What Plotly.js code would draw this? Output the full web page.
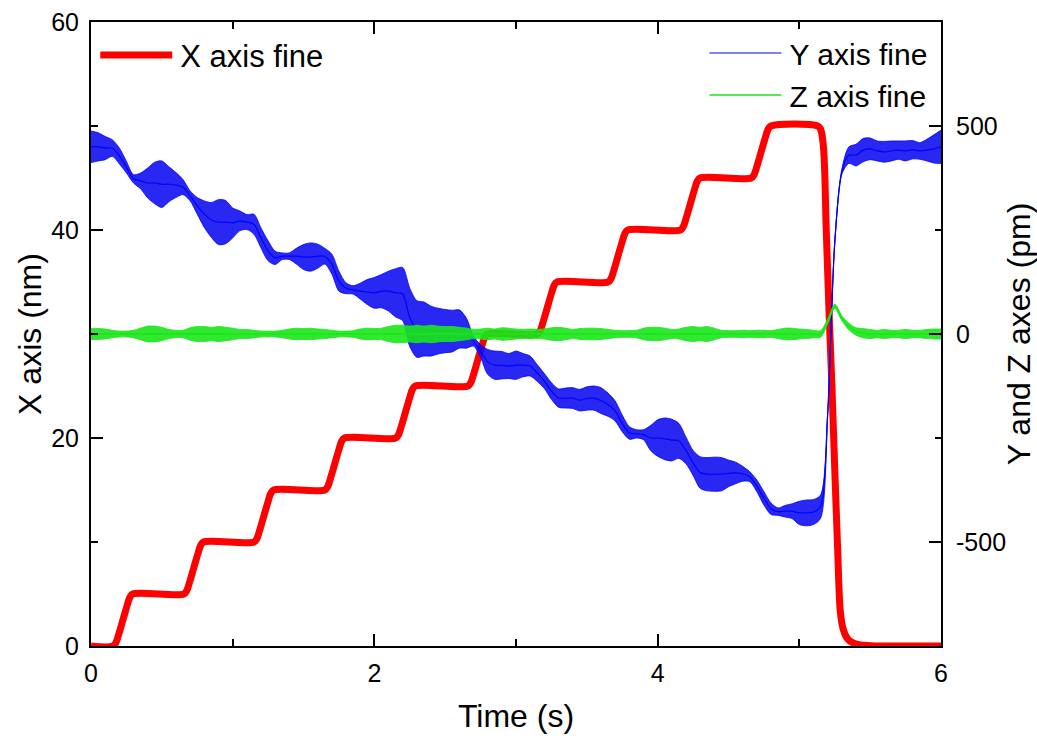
<!DOCTYPE html>
<html>
<head>
<meta charset="utf-8">
<script src="https://cdn.plot.ly/plotly-3.0.1.min.js"></script>
<style>html,body{margin:0;padding:0;background:#fff;}#chart{width:1037px;height:738px;}</style>
</head>
<body>
<div id="chart"></div>
<script>
// ---- X axis fine (nm): time (s) and position ----
const tX = [0, 0.155, 0.175, 0.195, 0.225, 0.255, 0.275, 0.295,
  0.655, 0.675, 0.695, 0.725, 0.755, 0.775, 0.795,
  1.15, 1.17, 1.19, 1.22, 1.25, 1.27, 1.29,
  1.65, 1.67, 1.69, 1.72, 1.75, 1.77, 1.79,
  2.15, 2.17, 2.19, 2.22, 2.25, 2.27, 2.29,
  2.66, 2.68, 2.70, 2.73, 2.76, 2.78, 2.80,
  3.15, 3.17, 3.19, 3.22, 3.25, 3.27, 3.29,
  3.65, 3.67, 3.69, 3.72, 3.75, 3.77, 3.79,
  4.16, 4.18, 4.20, 4.23, 4.26, 4.28, 4.30,
  4.66, 4.68, 4.70, 4.73, 4.76, 4.78, 4.80,
  5.13, 5.15, 5.17, 5.19, 5.21, 5.23, 5.25, 5.27, 5.29, 5.31, 5.34, 5.38, 5.43, 5.50, 5.60, 6.00];
const xFine = [0, 0, 0.3, 1.1, 2.5, 3.9, 4.7, 5,
  5, 5.3, 6.1, 7.5, 8.9, 9.7, 10,
  10, 10.3, 11.1, 12.5, 13.9, 14.7, 15,
  15, 15.3, 16.1, 17.5, 18.9, 19.7, 20,
  20, 20.3, 21.1, 22.5, 23.9, 24.7, 25,
  25, 25.3, 26.1, 27.5, 28.9, 29.7, 30,
  30, 30.3, 31.1, 32.5, 33.9, 34.7, 35,
  35, 35.3, 36.1, 37.5, 38.9, 39.7, 40,
  40, 40.3, 41.1, 42.5, 43.9, 44.7, 45,
  45, 45.3, 46.1, 47.5, 48.9, 49.7, 50,
  50, 49.7, 48, 40, 32, 25, 17, 9.5, 3.2, 1.6, 0.7, 0.3, 0.1, 0.03, 0, 0];

// ---- Y and Z fine (pm): sample times (s), band centre and half-width ----
const tB = [0,0.05,0.1,0.15,0.2,0.25,0.3,0.35,0.4,0.45,0.5,0.55,0.6,0.65,0.7,0.75,0.8,0.85,0.9,0.95,
  1,1.05,1.1,1.15,1.2,1.25,1.3,1.35,1.4,1.45,1.5,1.55,1.6,1.65,1.7,1.75,1.8,1.85,1.9,1.95,
  2,2.05,2.1,2.15,2.2,2.25,2.3,2.35,2.4,2.45,2.5,2.55,2.6,2.65,2.7,2.75,2.8,2.85,2.9,2.95,
  3,3.05,3.1,3.15,3.2,3.25,3.3,3.35,3.4,3.45,3.5,3.55,3.6,3.65,3.7,3.75,3.8,3.85,3.9,3.95,
  4,4.05,4.1,4.15,4.2,4.25,4.3,4.35,4.4,4.45,4.5,4.55,4.6,4.65,4.7,4.75,4.8,4.85,4.9,4.95,
  5,5.05,5.1,5.15,5.2,5.25,5.3,5.35,5.4,5.45,5.5,5.55,5.6,5.65,5.7,5.75,5.8,5.85,5.9,5.95,6];
const yMid = [450,450,447,447,428,401,373,368,363,363,360,360,358,353,332,308,288,274,269,269,
  267,272,269,264,231,200,183,187,187,187,185,185,187,187,168,127,110,106,103,101,
  99,103,103,99,96,40,12,12,7,7,7,7,12,2,-17,-41,-67,-75,-75,-77,
  -75,-75,-77,-94,-113,-137,-154,-154,-154,-159,-155,-154,-160,-170,-185,-215,-238,-240,-242,-250,
  -250,-252,-255,-257,-280,-310,-333,-337,-337,-337,-335,-334,-336,-343,-365,-395,-420,-427,-426,-426,
  -430,-430,-428,-415,-193,220,390,430,430,442,445,440,438,440,442,440,443,440,442,445,450];
const yAmp = [38,34,28,20,19,14,10,19,36,50,56,42,30,18,12,20,32,42,54,52,
  36,24,18,24,24,24,16,8,8,19,30,34,29,19,24,24,13,10,19,30,
  37,40,48,58,64,70,68,65,60,55,52,50,46,36,12,15,30,34,33,30,
  34,28,24,20,18,20,22,24,25,26,28,29,31,28,24,20,15,10,12,30,
  44,50,50,42,32,30,38,40,41,40,32,26,18,12,14,16,14,9,14,18,
  28,31,30,28,3,3,6,20,26,28,26,24,25,24,22,24,22,20,26,34,40];
const zMid = [0,0,0,0,0,0,0,0,0,0,0,0,0,0,0,0,0,0,0,0,
  0,0,0,0,0,0,0,0,0,0,0,0,0,0,0,0,0,0,0,0,
  0,0,0,0,0,0,0,0,0,0,0,0,0,0,0,0,0,0,0,0,
  0,0,0,0,0,0,0,0,0,0,0,0,0,0,0,0,0,0,0,0,
  0,0,0,0,0,0,0,0,0,0,0,0,0,0,0,0,0,0,0,0,
  0,0,0,0,30,67,38,18,6,2,0,0,0,0,0,0,0,0,0,0,0];
const zAmp = [13,13,12,9,7,7,9,14,19,19,16,11,9,9,15,18,18,16,18,16,
  14,11,11,9,7,7,7,9,12,14,13,14,12,11,9,7,7,8,12,14,
  13,14,18,21,21,19,21,19,21,19,18,18,16,14,11,12,14,12,15,14,
  12,11,12,11,12,15,16,14,11,13,14,14,13,11,9,8,8,9,14,16,
  16,14,11,12,16,18,16,18,14,9,8,8,9,8,9,9,8,11,14,14,
  12,11,9,8,6,5,6,8,9,11,11,9,11,9,9,11,9,9,11,12,12];

// ---- labels ----
const seriesNames = ['X axis fine', 'Y axis fine', 'Z axis fine'];
const rightTickVals = [-500, 0, 500];
const rightTickText = ['-500', '0', '500'];
const colors = {x: '#ff0000', y: '#0000ff', z: '#19e619'};

const yLo = yMid.map((m, i) => m - yAmp[i]);
const yHi = yMid.map((m, i) => m + yAmp[i]);
const zLo = zMid.map((m, i) => m - zAmp[i]);
const zHi = zMid.map((m, i) => m + zAmp[i]);

const band = {shape: 'spline', smoothing: 0.8};
const traces = [
  {x: tX, y: xFine, type: 'scatter', mode: 'lines', name: seriesNames[0], legend: 'legend',
   line: {color: colors.x, width: 7, shape: 'spline', smoothing: 1}, yaxis: 'y'},
  {x: tB, y: yLo, type: 'scatter', mode: 'lines', showlegend: false, hoverinfo: 'skip',
   line: Object.assign({color: colors.y, width: 0.8}, band), yaxis: 'y2'},
  {x: tB, y: yHi, type: 'scatter', mode: 'lines', showlegend: false, hoverinfo: 'skip', fill: 'tonexty',
   fillcolor: 'rgba(10,10,240,0.88)', line: Object.assign({color: colors.y, width: 0.8}, band), yaxis: 'y2'},
  {x: tB, y: yMid, type: 'scatter', mode: 'lines', name: seriesNames[1], legend: 'legend2',
   line: Object.assign({color: colors.y, width: 1.2}, band), yaxis: 'y2'},
  {x: tB, y: zLo, type: 'scatter', mode: 'lines', showlegend: false, hoverinfo: 'skip',
   line: Object.assign({color: colors.z, width: 0.8}, band), yaxis: 'y2'},
  {x: tB, y: zHi, type: 'scatter', mode: 'lines', showlegend: false, hoverinfo: 'skip', fill: 'tonexty',
   fillcolor: 'rgba(25,230,25,0.9)', line: Object.assign({color: colors.z, width: 0.8}, band), yaxis: 'y2'},
  {x: tB, y: zMid, type: 'scatter', mode: 'lines', name: seriesNames[2], legend: 'legend2',
   line: Object.assign({color: colors.z, width: 1.5}, band), yaxis: 'y2'}
];

const axisCommon = {
  showgrid: false, zeroline: false, showline: true, linewidth: 2, linecolor: '#000',
  ticks: 'inside', ticklen: 12, tickwidth: 2, tickcolor: '#000',
  tickfont: {size: 25, color: '#000'}, automargin: false
};

const layout = {
  width: 1037, height: 738,
  margin: {l: 91, r: 96, t: 22, b: 92},
  paper_bgcolor: '#fff', plot_bgcolor: '#fff',
  font: {family: 'Liberation Sans, Arial, sans-serif', color: '#000', size: 25},
  xaxis: Object.assign({}, axisCommon, {
    range: [0, 6], tick0: 0, dtick: 2, mirror: 'ticks', ticklabelstandoff: 4,
    minor: {tick0: 0, dtick: 1, ticks: 'inside', ticklen: 7, tickwidth: 2, tickcolor: '#000', showgrid: false},
    title: {text: 'Time (s)', font: {size: 32}, standoff: 19}
  }),
  yaxis: Object.assign({}, axisCommon, {
    range: [0, 60], tick0: 0, dtick: 20, ticklabelstandoff: 5,
    minor: {tick0: 0, dtick: 10, ticks: 'inside', ticklen: 7, tickwidth: 2, tickcolor: '#000', showgrid: false},
    title: {text: 'X axis (nm)', font: {size: 32}, standoff: 0}
  }),
  yaxis2: Object.assign({}, axisCommon, {
    overlaying: 'y', side: 'right', range: [-750, 750], tickmode: 'array',
    tickvals: rightTickVals, ticktext: rightTickText, ticklabelstandoff: 8,
    minor: {tick0: 0, dtick: 250, ticks: 'inside', ticklen: 6, tickwidth: 2, tickcolor: '#000', showgrid: false},
    title: {text: 'Y and Z axes (pm)', font: {size: 32}, standoff: 11}
  }),
  legend: {x: 0.005, y: 0.99, xanchor: 'left', yanchor: 'top', bgcolor: 'rgba(0,0,0,0)',
    font: {size: 31, color: '#000'}, itemwidth: 75, borderwidth: 0},
  legend2: {x: 0.99, y: 0.992, xanchor: 'right', yanchor: 'top', bgcolor: 'rgba(0,0,0,0)',
    font: {size: 30, color: '#000'}, itemwidth: 75, borderwidth: 0, tracegroupgap: 0},
  showlegend: true
};

Plotly.newPlot('chart', traces, layout, {staticPlot: true, displayModeBar: false}).then(function (gd) {
  // stretch the legend sample lines to the width used in the original figure
  gd.querySelectorAll('.legendlines path').forEach(function (p) { p.setAttribute('d', 'M5,0h72'); });
});
</script>
</body>
</html>
